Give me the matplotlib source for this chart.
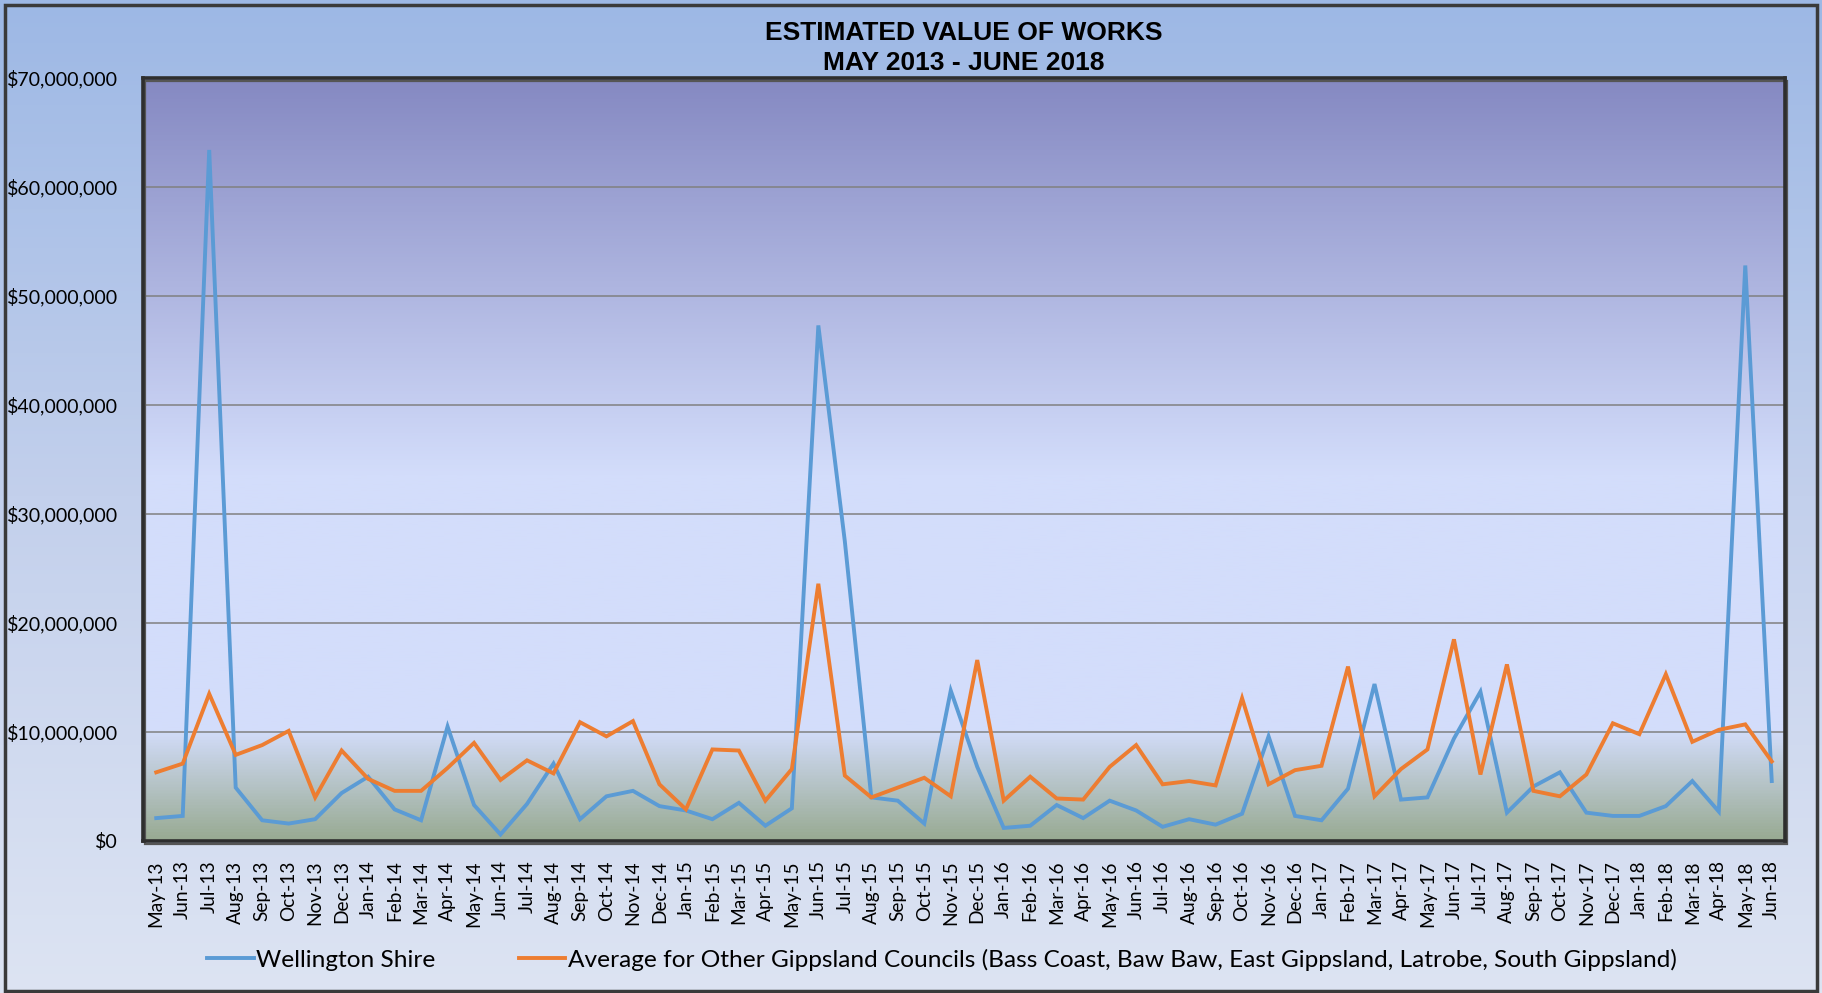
#!/usr/bin/env python3
import matplotlib
matplotlib.use("Agg")
import matplotlib.pyplot as plt
import numpy as np
import pandas as pd
from matplotlib.colors import LinearSegmentedColormap
from matplotlib.patches import Rectangle
from matplotlib.ticker import FuncFormatter, MultipleLocator

months = pd.date_range("2013-05-01", "2018-06-01", freq="MS").strftime("%b-%y").tolist()

# monthly estimated value of works, $ millions
wellington = [2.1, 2.3, 63.4, 4.9, 1.9, 1.6, 2.0, 4.4, 5.9, 2.9,
              1.9, 10.5, 3.3, 0.6, 3.4, 7.1, 2.0, 4.1, 4.6, 3.2,
              2.8, 2.0, 3.5, 1.4, 3.0, 47.3, 27.5, 4.0, 3.7, 1.6,
              13.8, 6.8, 1.2, 1.4, 3.3, 2.1, 3.7, 2.8, 1.3, 2.0,
              1.5, 2.5, 9.6, 2.3, 1.9, 4.8, 14.4, 3.8, 4.0, 9.4,
              13.7, 2.6, 5.0, 6.3, 2.6, 2.3, 2.3, 3.2, 5.5, 2.7,
              52.8, 5.5]
others_avg = [6.3, 7.1, 13.5, 7.9, 8.8, 10.1, 4.0, 8.3, 5.7, 4.6,
              4.6, 6.7, 9.0, 5.6, 7.4, 6.2, 10.9, 9.6, 11.0, 5.2,
              2.9, 8.4, 8.3, 3.7, 6.6, 23.6, 6.0, 4.0, 4.9, 5.8,
              4.1, 16.6, 3.7, 5.9, 3.9, 3.8, 6.8, 8.8, 5.2, 5.5,
              5.1, 13.1, 5.2, 6.5, 6.9, 16.0, 4.1, 6.6, 8.4, 18.5,
              6.1, 16.2, 4.6, 4.1, 6.1, 10.8, 9.8, 15.3, 9.1, 10.2,
              10.7, 7.3]

series_names = ["Wellington Shire",
                "Average for Other Gippsland Councils (Bass Coast, Baw Baw, "
                "East Gippsland, Latrobe, South Gippsland)"]

W, H, DPI = 1822, 993, 100
fig = plt.figure(figsize=(W / DPI, H / DPI), dpi=DPI)

# figure background: vertical blue gradient
bg = fig.add_axes([0, 0, 1, 1], zorder=-5)
bg_cmap = LinearSegmentedColormap.from_list("bg", ["#9db8e5", "#c3d0ec", "#dde4f3"])
bg.imshow(np.linspace(0, 1, 256).reshape(-1, 1), cmap=bg_cmap, aspect="auto",
          extent=(0, 1, 0, 1), origin="upper")
bg.set_axis_off()
fig.patches.append(Rectangle((0.003, 0.002), 0.994, 0.993, transform=fig.transFigure,
                             fill=False, edgecolor="#3a3a3a", lw=2.5, zorder=10))

left, right, top, bottom = 143 / W, 1785 / W, 78 / H, 841 / H
ax = fig.add_axes([left, 1 - bottom, right - left, bottom - top])

x = np.arange(len(months))
ymax = 70e6

# plot area gradient: purple at top, pale blue, grey-green at the base
plot_cmap = LinearSegmentedColormap.from_list(
    "plot", [(0.0, "#8589c2"), (0.52, "#d3ddfb"), (0.855, "#d3ddfb"), (1.0, "#98aa92")])
ax.imshow(np.linspace(0, 1, 512).reshape(-1, 1), cmap=plot_cmap, aspect="auto",
          extent=(-0.5, len(months) - 0.5, 0, ymax), origin="upper", zorder=0)
ax.patch.set_visible(False)

ax.plot(x, np.array(wellington) * 1e6, color="#5b9bd5", lw=2.8,
        solid_joinstyle="miter", label=series_names[0], zorder=3)
ax.plot(x, np.array(others_avg) * 1e6, color="#ed7d31", lw=2.8,
        solid_joinstyle="miter", label=series_names[1], zorder=3)

ax.set_xlim(-0.5, len(months) - 0.5)
ax.set_ylim(0, ymax)
ax.yaxis.set_major_locator(MultipleLocator(10e6))
ax.yaxis.set_major_formatter(FuncFormatter(lambda v, p: f"${v:,.0f}"))
ax.grid(axis="y", color="#808080", lw=1.1, zorder=1)
ax.set_axisbelow(False)

ax.set_xticks(x)
ax.set_xticklabels(months, rotation=90, fontsize=13.8, family="Lato")
ax.tick_params(axis="x", length=0, pad=14)
ax.tick_params(axis="y", length=0, pad=18, labelsize=14.1)
for lbl in ax.get_yticklabels():
    lbl.set_family("Lato")

for s in ax.spines.values():
    s.set_color("#2e2e2e")
    s.set_linewidth(2.6)
    s.set_zorder(5)
# slight drop shadow along the right and bottom of the plot frame
ax.add_patch(Rectangle((0.0015, -0.004), 1.0, 1.0, transform=ax.transAxes,
                       fill=False, edgecolor="#555555", lw=1.6, clip_on=False, zorder=4))

fig.text((left + right) / 2, 1 - 32.5 / H, "ESTIMATED VALUE OF WORKS",
         ha="center", va="center", fontsize=19, fontweight="bold", family="Liberation Sans")
fig.text((left + right) / 2, 1 - 63.5 / H, "MAY 2013 - JUNE 2018",
         ha="center", va="center", fontsize=19, fontweight="bold", family="Liberation Sans")

fig.legend(loc="center", bbox_to_anchor=(942 / W, 1 - 960 / H), ncol=2, frameon=False,
           prop={"family": "Lato", "size": 17.6}, handlelength=1.9, handletextpad=0.1,
           columnspacing=3.4)

fig.savefig("out.png", dpi=DPI)
plt.close(fig)
